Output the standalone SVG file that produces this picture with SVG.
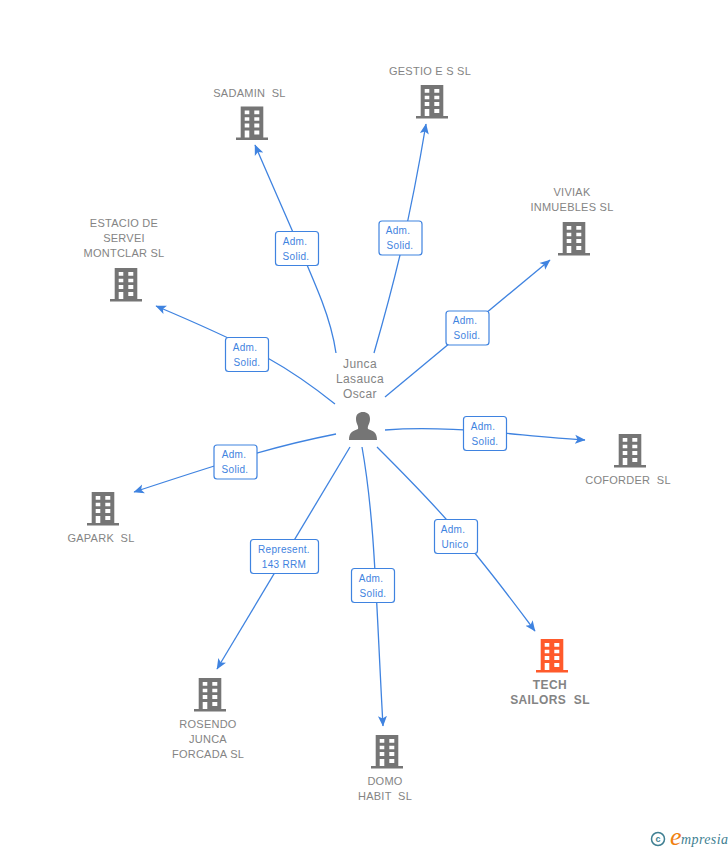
<svg xmlns="http://www.w3.org/2000/svg" width="728" height="850" viewBox="0 0 728 850">
<style>
text{font-family:"Liberation Sans",Arial,sans-serif;white-space:pre}
.n{font-size:11px;fill:#848484;text-anchor:middle;letter-spacing:.25px}
.p{font-size:12px;fill:#848484;text-anchor:middle;letter-spacing:.4px}
.l{font-size:10px;fill:#3f83e0;text-anchor:middle;letter-spacing:.3px}
.e{fill:none;stroke:#3f83e0;stroke-width:1.3}
.b{fill:#fff;stroke:#3f83e0;stroke-width:1.2}
.w{fill:#fff}
.t{font-size:12px;font-weight:bold;fill:#848484;text-anchor:middle;letter-spacing:.4px}
</style>
<defs>
<marker id="a" markerUnits="userSpaceOnUse" markerWidth="12" markerHeight="10" refX="10" refY="5" orient="auto"><path d="M0 0.500L10.500 5L0 9.500L2.500 5Z" fill="#3f83e0"/></marker>
<g id="bg"><path d="M4.700 0H27.300V31H32V33.500H0V31H4.700Z"/><path class="w" d="M8.700 4h4.600v3.700h-4.600zM18.300 4h5v3.700h-5zM8.700 10.700h4.600v3.500h-4.600zM18.300 10.700h5v3.500h-5zM8.700 17h4.600v4h-4.600zM18.300 17h5v4h-5zM8.700 24h4.600v7h-4.600zM18.300 24h5v4h-5z"/></g>
</defs>
<rect width="728" height="850" fill="#fff"/>
<g id="connectors">
<path class="e" marker-end="url(#a)" d="M336 353C330 312 316 286 255 145"/>
<path class="e" marker-end="url(#a)" d="M374 353C395 280 410 220 426 124"/>
<path class="e" marker-end="url(#a)" d="M385 397L550 260"/>
<path class="e" marker-end="url(#a)" d="M335 404C290 368 260 350 156 306"/>
<path class="e" marker-end="url(#a)" d="M385 430C450 425 510 435 585 440"/>
<path class="e" marker-end="url(#a)" d="M336 434C280 445 240 457 134 492"/>
<path class="e" marker-end="url(#a)" d="M350 447L217 669"/>
<path class="e" marker-end="url(#a)" d="M362 447C375 520 376 600 383 726"/>
<path class="e" marker-end="url(#a)" d="M377 447C430 500 460 530 535 631"/>
</g>
<g id="label-sadamin"><rect class="b" x="275.500" y="231.500" width="43" height="34" rx="3"/><text class="l" x="295" y="245">Adm.</text><text class="l" x="296" y="260">Solid.</text></g>
<g id="label-gestio"><rect class="b" x="379" y="221" width="43" height="34" rx="3"/><text class="l" x="398" y="234">Adm.</text><text class="l" x="400" y="249">Solid.</text></g>
<g id="label-viviak"><rect class="b" x="446" y="311" width="43" height="34" rx="3"/><text class="l" x="465" y="324">Adm.</text><text class="l" x="467" y="339">Solid.</text></g>
<g id="label-estacio"><rect class="b" x="225.500" y="337.500" width="43" height="34" rx="3"/><text class="l" x="245" y="351">Adm.</text><text class="l" x="247" y="366">Solid.</text></g>
<g id="label-coforder"><rect class="b" x="463.500" y="416.500" width="43" height="34" rx="3"/><text class="l" x="483" y="430">Adm.</text><text class="l" x="485" y="445">Solid.</text></g>
<g id="label-gapark"><rect class="b" x="214" y="445" width="43" height="34" rx="3"/><text class="l" x="234" y="458">Adm.</text><text class="l" x="235" y="473">Solid.</text></g>
<g id="label-rosendo"><rect class="b" x="250.500" y="539.500" width="68" height="34" rx="3"/><text class="l" x="284" y="553">Represent.</text><text class="l" x="284" y="568">143 RRM</text></g>
<g id="label-domo"><rect class="b" x="351.500" y="568.500" width="43" height="34" rx="3"/><text class="l" x="371" y="582">Adm.</text><text class="l" x="373" y="597">Solid.</text></g>
<g id="label-tech"><rect class="b" x="434.500" y="519.500" width="43" height="34" rx="3"/><text class="l" x="453" y="533">Adm.</text><text class="l" x="455" y="548">Unico</text></g>
<g id="person"><text class="p" x="360" y="368">Junca</text><text class="p" x="360" y="383">Lasauca</text><text class="p" x="360" y="398">Oscar</text>
<path fill="#757575" d="M349 440C349 432 353 431 358 429C359 426 356 424 356 419C356 414 359 412 363 412C367 412 370 414 370 419C370 424 367 426 368 429C373 431 377 432 377 440Z"/></g>
<g id="sadamin" fill="#757575"><text class="n" x="249.500" y="97">SADAMIN  SL</text><use href="#bg" x="236" y="106.500"/></g>
<g id="gestio" fill="#757575"><text class="n" x="430" y="75">GESTIO E S SL</text><use href="#bg" x="416" y="85"/></g>
<g id="viviak" fill="#757575"><text class="n" x="572" y="196">VIVIAK</text><text class="n" x="572" y="211">INMUEBLES SL</text><use href="#bg" x="558" y="222"/></g>
<g id="estacio" fill="#757575"><text class="n" x="124" y="227">ESTACIO DE</text><text class="n" x="124" y="242">SERVEI</text><text class="n" x="124" y="257">MONTCLAR SL</text><use href="#bg" x="110" y="268"/></g>
<g id="coforder" fill="#757575"><use href="#bg" x="614" y="434"/><text class="n" x="628" y="484">COFORDER  SL</text></g>
<g id="gapark" fill="#757575"><use href="#bg" x="87" y="492"/><text class="n" x="101" y="542">GAPARK  SL</text></g>
<g id="rosendo" fill="#757575"><use href="#bg" x="194" y="678"/><text class="n" x="208" y="728">ROSENDO</text><text class="n" x="208" y="743">JUNCA</text><text class="n" x="208" y="758">FORCADA SL</text></g>
<g id="domo" fill="#757575"><use href="#bg" x="371" y="735"/><text class="n" x="385" y="785">DOMO</text><text class="n" x="385" y="800">HABIT  SL</text></g>
<g id="tech" fill="#ff5a2b"><use href="#bg" x="536" y="639"/><text class="t" x="550" y="689">TECH</text><text class="t" x="550" y="704">SAILORS  SL</text></g>
<g id="logo"><circle cx="658" cy="839" r="6.500" fill="none" stroke="#3f7f92" stroke-width="1.500"/><text x="658" y="842" text-anchor="middle" style="font-size:9px;font-weight:bold;fill:#3f7f92">c</text><text x="670" y="845" style="font-family:'Liberation Serif',serif;font-size:26px;font-style:italic;fill:#f08010">e</text><text x="681" y="844" style="font-family:'Liberation Serif',serif;font-size:14px;font-style:italic;fill:#3f7f92;letter-spacing:.4px">mpresia</text></g>
</svg>
